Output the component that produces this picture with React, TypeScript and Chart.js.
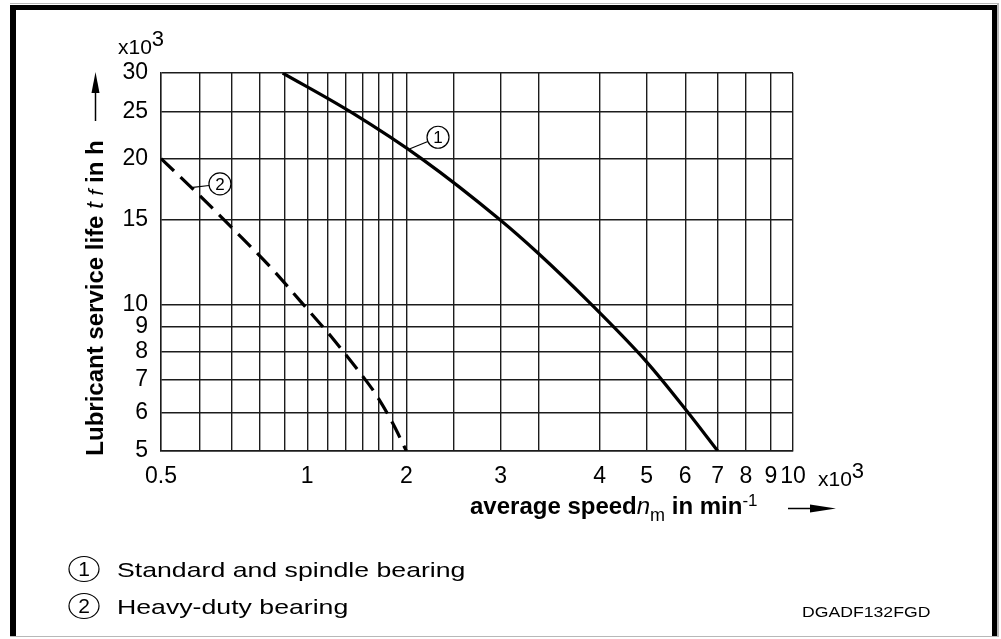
import React, { useEffect, useRef } from "react";
import { Chart, registerables } from "chart.js";

Chart.register(...registerables);

// ---- data (speed in x10^3 min^-1, life in x10^3 h) ----
const standardSpeed = [0.89, 1.224, 1.73, 2.49, 3.0, 3.79, 5.0, 6.04, 7.0];
const standardLife = [30, 25, 19.9, 14.98, 12.72, 10.16, 7.62, 6.05, 5];

const heavySpeed = [0.5, 0.6, 0.7, 0.85, 0.97, 1.12, 1.27, 1.39, 1.5, 1.6];
const heavyLife = [20, 16.8, 14.4, 11.8, 10.15, 8.6, 7.35, 6.5, 5.7, 5.0];

// grid lines (tick values) and tick labels
const speedGrid = [0.5, 0.6, 0.7, 0.8, 0.9, 1, 1.1, 1.2, 1.3, 1.4, 1.5, 1.6, 2, 2.5, 3, 4, 5, 6, 7, 8, 9, 10];
const speedLabelAt = [0.5, 1, 1.6, 2.5, 4, 5, 6, 7, 8, 9, 10];
const speedLabelText = ["0.5", "1", "2", "3", "4", "5", "6", "7", "8", "9", "10"];

const lifeGrid = [5, 6, 7, 8, 9, 10, 15, 20, 25, 30];
const lifeLabelText = ["5", "6", "7", "8", "9", "10", "15", "20", "25", "30"];

// curve markers: anchor point on curve and label
const markerSpeed = [1.62, 0.579];
const markerLife = [20.9, 17.4];
const markerText = ["1", "2"];

const legendText = ["Standard and spindle bearing", "Heavy-duty bearing"];

const FF = "'Liberation Sans', Arial, Helvetica, sans-serif";

function findLabel(list: number[], texts: string[], value: number) {
  const i = list.findIndex((v) => Math.abs(v - value) < 1e-6);
  return i >= 0 ? texts[i] : "";
}

type Seg = { t: string; f: string; dy?: number };

function drawSegs(ctx: CanvasRenderingContext2D, segs: Seg[], x: number, y: number) {
  let cx = x;
  for (const s of segs) {
    ctx.font = s.f;
    ctx.fillText(s.t, cx, y + (s.dy || 0));
    cx += ctx.measureText(s.t).width;
  }
  return cx;
}
function segsWidth(ctx: CanvasRenderingContext2D, segs: Seg[]) {
  let w = 0;
  for (const s of segs) {
    ctx.font = s.f;
    w += ctx.measureText(s.t).width;
  }
  return w;
}

const decorPlugin = {
  id: "decor",
  afterDraw(chart: any) {
    const ctx: CanvasRenderingContext2D = chart.ctx;
    const xs = chart.scales.x;
    const ys = chart.scales.y;
    ctx.save();
    // frame
    ctx.fillStyle = "#b8b8b8";
    ctx.fillRect(10, 3, 989, 1);
    ctx.fillRect(997, 3, 2, 634);
    ctx.fillRect(10, 636, 989, 1);
    ctx.fillStyle = "#000";
    ctx.fillRect(10, 5, 987, 5);
    ctx.fillRect(10, 5, 6, 631);
    ctx.fillRect(992, 5, 5, 631);

    ctx.fillStyle = "#000";
    ctx.strokeStyle = "#000";
    ctx.textBaseline = "alphabetic";
    ctx.textAlign = "left";

    // y axis exponent
    drawSegs(ctx, [{ t: "x10", f: `21px ${FF}` }, { t: "3", f: `22px ${FF}`, dy: -8 }], 118, 54);
    // x axis exponent
    drawSegs(ctx, [{ t: "x10", f: `21px ${FF}` }, { t: "3", f: `22px ${FF}`, dy: -8 }], 818, 486);

    // y title (rotated)
    const ySegs: Seg[] = [
      { t: "Lubricant service life ", f: `bold 24px ${FF}` },
      { t: "t", f: `italic 24px ${FF}` },
      { t: " ", f: `24px ${FF}` },
      { t: "f", f: `italic 21px ${FF}` },
      { t: " in h", f: `bold 24px ${FF}` },
    ];
    ctx.save();
    ctx.translate(103, 298);
    ctx.rotate(-Math.PI / 2);
    const yw = segsWidth(ctx, ySegs);
    drawSegs(ctx, ySegs, -yw / 2, 0);
    ctx.restore();
    // y arrow
    ctx.lineWidth = 1.5;
    ctx.beginPath();
    ctx.moveTo(95.5, 121);
    ctx.lineTo(95.5, 90);
    ctx.stroke();
    ctx.beginPath();
    ctx.moveTo(95.5, 72);
    ctx.lineTo(91.5, 93);
    ctx.lineTo(99.5, 93);
    ctx.closePath();
    ctx.fill();

    // x title
    const xSegs: Seg[] = [
      { t: "average speed", f: `bold 24px ${FF}` },
      { t: "n", f: `italic 24px ${FF}` },
      { t: "m", f: `18px ${FF}`, dy: 7 },
      { t: " in min", f: `bold 24px ${FF}` },
      { t: "-1", f: `17px ${FF}`, dy: -8 },
    ];
    drawSegs(ctx, xSegs, 470, 514);
    // x arrow
    ctx.beginPath();
    ctx.moveTo(788, 508.5);
    ctx.lineTo(812, 508.5);
    ctx.stroke();
    ctx.beginPath();
    ctx.moveTo(836, 508.5);
    ctx.lineTo(810, 504.5);
    ctx.lineTo(810, 512.5);
    ctx.closePath();
    ctx.fill();

    // curve markers
    const offs = [
      [29, -12],
      [28, -4],
    ];
    for (let i = 0; i < markerText.length; i++) {
      const ax = xs.getPixelForValue(markerSpeed[i]);
      const ay = ys.getPixelForValue(markerLife[i]);
      const cx = ax + offs[i][0];
      const cy = ay + offs[i][1];
      const r = 11;
      const dx = ax - cx;
      const dy = ay - cy;
      const d = Math.hypot(dx, dy);
      ctx.lineWidth = 1.2;
      ctx.beginPath();
      ctx.moveTo(ax + 1, ay - 0.5);
      ctx.lineTo(cx + (dx / d) * r, cy + (dy / d) * r);
      ctx.stroke();
      ctx.beginPath();
      ctx.arc(cx, cy, r, 0, Math.PI * 2);
      ctx.fillStyle = "#fff";
      ctx.fill();
      ctx.stroke();
      ctx.fillStyle = "#000";
      ctx.font = `17px ${FF}`;
      ctx.textAlign = "center";
      ctx.textBaseline = "middle";
      ctx.fillText(markerText[i], cx, cy + 1);
      ctx.textAlign = "left";
      ctx.textBaseline = "alphabetic";
    }

    // legend
    const rowY = [569, 606];
    for (let i = 0; i < legendText.length; i++) {
      const cy = rowY[i];
      ctx.lineWidth = 1.2;
      ctx.beginPath();
      ctx.ellipse(84, cy, 15, 12.5, 0, 0, Math.PI * 2);
      ctx.stroke();
      ctx.font = `21px ${FF}`;
      ctx.textAlign = "center";
      ctx.textBaseline = "middle";
      ctx.fillText(markerText[i], 84, cy + 1);
      ctx.textAlign = "left";
      ctx.textBaseline = "alphabetic";
      ctx.save();
      ctx.translate(117, cy + 8);
      ctx.scale(1.27, 1);
      ctx.font = `21px ${FF}`;
      ctx.fillText(legendText[i], 0, 0);
      ctx.restore();
    }
    // drawing code
    ctx.save();
    ctx.translate(802, 617);
    ctx.scale(1.26, 1);
    ctx.font = `14px ${FF}`;
    ctx.fillText("DGADF132FGD", 0, 0);
    ctx.restore();

    ctx.restore();
  },
};

export default function App() {
  const ref = useRef<HTMLCanvasElement | null>(null);
  useEffect(() => {
    if (!ref.current) return;
    const gridColor = "#1c1c1c";
    const chart = new Chart(ref.current, {
      type: "line",
      data: {
        datasets: [
          {
            label: "Standard and spindle bearing",
            data: standardSpeed.map((x, i) => ({ x, y: standardLife[i] })),
            borderColor: "#000",
            borderWidth: 3.2,
            pointRadius: 0,
            cubicInterpolationMode: "monotone",
            fill: false,
          },
          {
            label: "Heavy-duty bearing",
            data: heavySpeed.map((x, i) => ({ x, y: heavyLife[i] })),
            borderColor: "#000",
            borderWidth: 3.2,
            borderDash: [18, 9],
            pointRadius: 0,
            cubicInterpolationMode: "monotone",
            fill: false,
          },
        ],
      },
      options: {
        responsive: false,
        animation: false,
        devicePixelRatio: 1,
        events: [],
        layout: { padding: { left: 0, top: 73, right: 208, bottom: 0 } },
        plugins: { legend: { display: false }, tooltip: { enabled: false }, title: { display: false } },
        scales: {
          x: {
            type: "logarithmic",
            min: 0.5,
            max: 10,
            afterBuildTicks: (s: any) => {
              s.ticks = speedGrid.map((v) => ({ value: v }));
            },
            afterFit: (s: any) => {
              s.height = 188;
            },
            grid: { color: gridColor, lineWidth: 1.4, drawTicks: false },
            border: { display: true, color: gridColor, width: 1.4 },
            ticks: {
              autoSkip: false,
              maxRotation: 0,
              minRotation: 0,
              padding: 12,
              color: "#000",
              font: { family: FF, size: 23 },
              callback: (v: any) => findLabel(speedLabelAt, speedLabelText, Number(v)),
            },
          },
          y: {
            type: "logarithmic",
            min: 5,
            max: 30,
            afterBuildTicks: (s: any) => {
              s.ticks = lifeGrid.map((v) => ({ value: v }));
            },
            afterFit: (s: any) => {
              s.width = 161;
            },
            grid: { color: gridColor, lineWidth: 1.4, drawTicks: false },
            border: { display: true, color: gridColor, width: 1.4 },
            ticks: {
              autoSkip: false,
              padding: 13,
              color: "#000",
              font: { family: FF, size: 23 },
              callback: (v: any) => findLabel(lifeGrid, lifeLabelText, Number(v)),
            },
          },
        },
      } as any,
      plugins: [decorPlugin],
    });
    return () => chart.destroy();
  }, []);

  return (
    <div style={{ position: "absolute", left: 0, top: 0, width: 1001, height: 639, background: "#fff" }}>
      <canvas ref={ref} width={1001} height={639} style={{ width: 1001, height: 639, display: "block" }} />
    </div>
  );
}
